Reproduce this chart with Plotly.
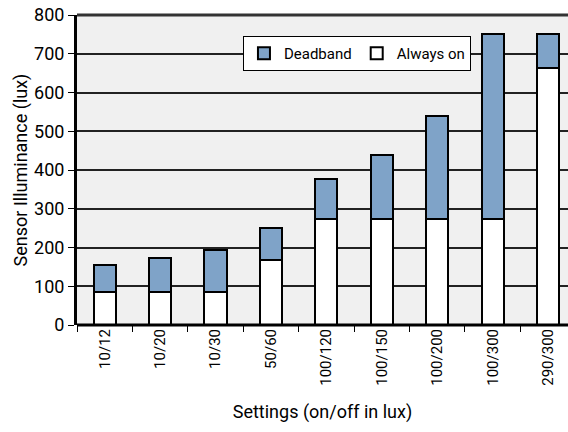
import plotly.graph_objects as go

settings = ["10/12", "10/20", "10/30", "50/60", "100/120", "100/150", "100/200", "100/300", "290/300"]
always_on = [85, 85, 85, 168, 273, 273, 273, 273, 662]
total = [155, 172, 193, 251, 377, 439, 540, 750, 750]
deadband = [t - a for t, a in zip(total, always_on)]

FONT = "Roboto, sans-serif"

fig = go.Figure()
fig.add_trace(go.Bar(x=settings, y=always_on, name="Always on",
                     marker=dict(color="white", line=dict(color="black", width=2)),
                     width=0.4))
fig.add_trace(go.Bar(x=settings, y=deadband, name="Deadband",
                     marker=dict(color="#7fa3c8", line=dict(color="black", width=2)),
                     width=0.4))

fig.update_layout(
    width=568, height=432,
    barmode="stack",
    paper_bgcolor="white",
    plot_bgcolor="#f0f0f0",
    margin=dict(l=77, r=0, t=15, b=107),
    font=dict(family=FONT, size=17, color="black"),
    legend=dict(orientation="h", x=0.338, y=0.876, xanchor="left", yanchor="middle",
                bgcolor="white", bordercolor="black", borderwidth=1,
                traceorder="reversed", font=dict(size=15), itemwidth=30,
                tracegroupgap=0),
    showlegend=True,
    xaxis=dict(range=[-0.5, 8.36], tickangle=-90, ticks="outside", tickson="boundaries",
               ticklen=6, tickcolor="black", showgrid=False, showline=False,
               automargin=False,
               title=dict(text="Settings (on/off in lux)", font=dict(size=18), standoff=20),
               tickfont=dict(size=15)),
    yaxis=dict(range=[0, 800], dtick=100, ticks="outside", ticklen=6, tickcolor="black",
               showline=True, linecolor="black", linewidth=3, automargin=False,
               ticklabeloverflow="allow",
               showgrid=True, gridcolor="#222", gridwidth=1.5, zeroline=False,
               title=dict(text="Sensor Illuminance (lux)", font=dict(size=18), standoff=2),
               tickfont=dict(size=18)),
    shapes=[dict(type="line", xref="paper", yref="paper", x0=0, x1=1, y0=1, y1=1,
                 line=dict(color="#333", width=3)),
            dict(type="line", xref="paper", yref="paper", x0=0, x1=1, y0=0, y1=0,
                 line=dict(color="black", width=3))],
)

fig.write_html("out.html", post_script="document.body.style.margin='0';",
               config={"displayModeBar": False})
